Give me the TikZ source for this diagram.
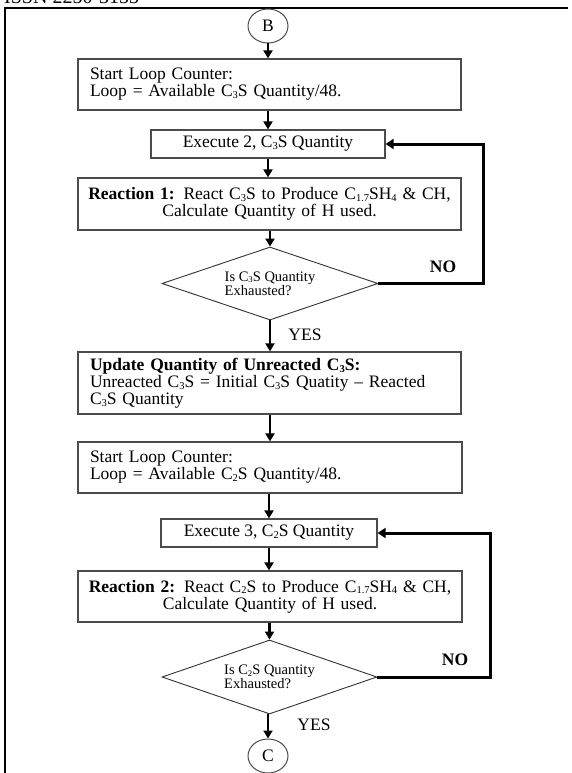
\documentclass[tikz,border=0pt]{standalone}
\usepackage{fontspec}
\setmainfont{Liberation Serif}
\usetikzlibrary{shapes.geometric,arrows.meta}
\AtBeginDocument{\lineskiplimit=-10pt\relax\lineskip=0pt\relax}
% small lowered index digits, as in C3S
\newcommand\idx[1]{\raisebox{-0.1em}{\scalebox{0.6}{#1}}}

\begin{document}
\begin{tikzpicture}[x=1pt,y=-1pt,
  bodyfont/.style={font=\fontsize{17.5}{17}\selectfont},
  smallfont/.style={font=\fontsize{14.5}{14}\selectfont},
  procbox/.style={draw=black!70, line width=1.2pt, rectangle, inner sep=0pt, bodyfont},
  leftbox/.style={procbox, align=left, inner xsep=12pt},
  centerbox/.style={procbox, align=center},
  decision/.style={draw=black!80, line width=0.9pt, diamond, aspect=2.9, inner sep=0pt,
                   smallfont, align=left},
  connector/.style={draw=black!70, line width=1pt, ellipse, inner sep=0pt,
                    minimum width=40pt, minimum height=34pt, bodyfont},
  flow/.style={line width=2.5pt, -{Triangle[length=8pt,width=9pt]}},
  loopback/.style={line width=3pt, -{Triangle[length=8pt,width=10pt]}},
  answer/.style={bodyfont, inner sep=0pt}
]
\useasboundingbox (0,0) rectangle (572,773);
\clip (0,0) rectangle (572,773);

% running header and page frame
\node[font=\fontsize{20}{20}\selectfont, anchor=base west, inner sep=0pt] (hdr) at (4,3.5) {ISSN 2250-3153};
\draw[line width=2pt] (5,773) -- (5,8.5) -- (568,8.5);

% nodes
\node[connector] (B) at (268,26) {B};
\node[leftbox, text width=359pt, minimum height=51pt] (start1) at (269.5,84.5)
  {Start Loop Counter:\\Loop = Available C\idx{3}S Quantity/48.};
\node[centerbox, minimum width=234pt, minimum height=28pt] (exec2) at (268,144)
  {Execute 2, C\idx{3}S Quantity};
\node[centerbox, text width=383pt, minimum height=52pt] (react1) at (269.5,204)
  {\textbf{Reaction 1:} React C\idx{3}S to Produce C\idx{1.7}SH\idx{4} \& CH,\\Calculate Quantity of H used.};
\node[decision, minimum width=216pt, minimum height=73pt] (dec1) at (270,283.5)
  {Is C\idx{3}S Quantity\\Exhausted?};
\node[leftbox, text width=359pt, minimum height=62pt] (update) at (269.5,383)
  {\textbf{Update Quantity of Unreacted C\idx{3}S:}\\Unreacted C\idx{3}S = Initial C\idx{3}S Quatity -- Reacted\\C\idx{3}S Quantity};
\node[leftbox, text width=360pt, minimum height=51pt] (start2) at (270,467.5)
  {Start Loop Counter:\\Loop = Available C\idx{2}S Quantity/48.};
\node[centerbox, minimum width=216pt, minimum height=28pt] (exec3) at (269,533)
  {Execute 3, C\idx{2}S Quantity};
\node[centerbox, text width=384pt, minimum height=51pt] (react2) at (270,596.5)
  {\textbf{Reaction 2:} React C\idx{2}S to Produce C\idx{1.7}SH\idx{4} \& CH,\\Calculate Quantity of H used.};
\node[decision, minimum width=215pt, minimum height=74pt] (dec2) at (269.5,677)
  {Is C\idx{2}S Quantity\\Exhausted?};
\node[connector] (C) at (268,756) {C};

% branch labels
\node[answer, font=\bfseries\fontsize{17.5}{17}\selectfont] (no1) at (443,267) {NO};
\node[answer] (yes1) at (305,335) {YES};
\node[answer, font=\bfseries\fontsize{17.5}{17}\selectfont] (no2) at (455,660) {NO};
\node[answer] (yes2) at (314,725) {YES};

% main flow
\draw[flow] (B.south) -- (B.south |- start1.north);
\draw[flow] (start1.south -| exec2.south) -- (exec2.north);
\draw[flow] (exec2.south) -- (exec2.south |- react1.north);
\draw[flow] (react1.south -| dec1.north) -- (dec1.north);
\draw[flow] (dec1.south) -- (dec1.south |- update.north);
\draw[flow] (update.south -| dec1.south) -- (dec1.south |- start2.north);
\draw[flow] (start2.south -| exec3.north) -- (exec3.north);
\draw[flow] (exec3.south) -- (exec3.south |- react2.north);
\draw[flow] (react2.south -| dec2.north) -- (dec2.north);
\draw[flow] (dec2.south -| C.north) -- (C.north);

% loops back on NO
\draw[loopback] (dec1.east) -- ++(105,0) |- (exec2.east);
\draw[loopback] (dec2.east) -- ++(113,0) |- (exec3.east);
\end{tikzpicture}
\end{document}
